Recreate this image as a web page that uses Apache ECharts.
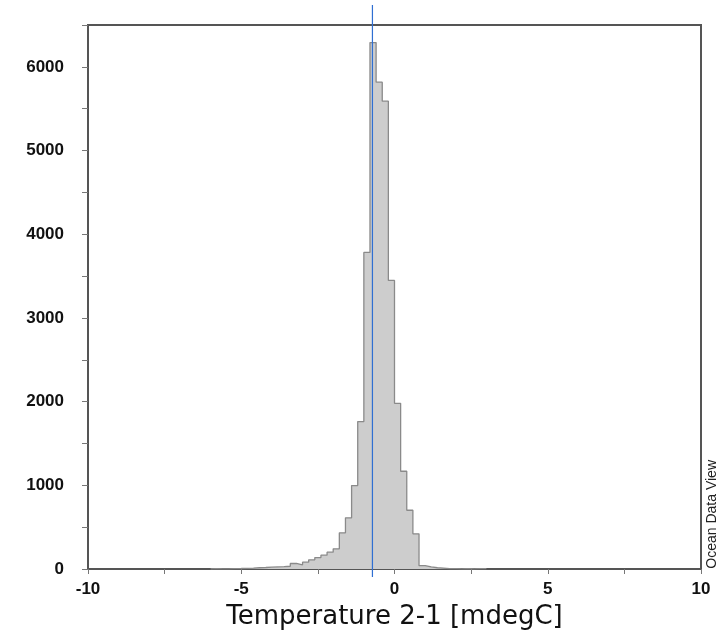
<!DOCTYPE html>
<html><head><meta charset="utf-8">
<script src="https://cdn.jsdelivr.net/npm/echarts@6/dist/echarts.min.js"></script>
<style>html,body{margin:0;padding:0;background:#fff}#c{width:724px;height:638px}</style>
</head><body><div id="c"></div>
<script>
// Histogram of Temperature 2-1 [mdegC], bins 0.2 wide starting at -6.0
const binStart = -6.0;
const binWidth = 0.2;
const counts = [
  5, 1, 1, 5, 6, 8, 10, 15, 18, 22, 25, 28, 33, 66, 50, 81, 110, 137, 165, 201,
  241, 432, 611, 997, 1761, 3783, 6290, 5817, 5590, 3448, 1980, 1168, 702, 420,
  40, 25, 15, 10, 5, 5, 1, 5, 1, 5, 5
];
const meanValue = -0.72;
const xTickValues = [-10, -5, 0, 5, 10];
const yTickValues = [0, 1000, 2000, 3000, 4000, 5000, 6000];
const xTitle = 'Temperature 2-1 [mdegC]';
const sideText = 'Ocean Data View';

// build step points: (left edge, count)
const stepData = [[binStart, 0]];
counts.forEach((c, i) => stepData.push([+(binStart + i * binWidth).toFixed(2), c]));
stepData.push([+(binStart + counts.length * binWidth).toFixed(2), 0]);

const chart = echarts.init(document.getElementById('c'));
const labFont = {fontFamily: 'Liberation Sans', fontWeight: 'bold', fontSize: 17, color: '#111'};
chart.setOption({
  animation: false,
  grid: {left: 88, right: 23, top: 25, bottom: 69, show: true, borderColor: '#555', borderWidth: 2},
  xAxis: {
    type: 'value', min: -10, max: 10, interval: 2.5,
    name: xTitle, nameLocation: 'middle', nameGap: 35,
    nameTextStyle: {fontFamily: 'DejaVu Sans', fontSize: 26, color: '#111'},
    axisLine: {show: true, onZero: false, lineStyle: {color: '#555', width: 2}},
    axisTick: {show: true, length: 5, lineStyle: {color: '#777'}},
    axisLabel: Object.assign({margin: 12, formatter: v => xTickValues.includes(v) ? String(v) : ''}, labFont),
    splitLine: {show: false}
  },
  yAxis: {
    type: 'value', min: 0, max: 6500, interval: 1000,
    axisLine: {show: true, onZero: false, lineStyle: {color: '#555', width: 2}},
    axisTick: {show: true, length: 6, lineStyle: {color: '#777'}},
    minorTick: {show: true, splitNumber: 2, length: 6, lineStyle: {color: '#777'}},
    axisLabel: Object.assign({margin: 24, showMaxLabel: false,
      formatter: v => yTickValues.includes(v) ? String(v) : ''}, labFont),
    splitLine: {show: false}
  },
  series: [
    {
      type: 'line', step: 'end', data: stepData, symbol: 'none', z: 2,
      lineStyle: {color: '#8a8a8a', width: 1.3},
      areaStyle: {color: '#cdcdcd', opacity: 1}
    },
    {
      type: 'custom', z: 5, clip: false,
      data: [[meanValue]],
      renderItem: function (params, api) {
        const bottom = api.coord([api.value(0), 0]);
        const top = api.coord([api.value(0), 6500]);
        return {type: 'line', shape: {x1: bottom[0], y1: bottom[1] + 8, x2: top[0], y2: top[1] - 20},
          style: {stroke: '#2f6fd2', lineWidth: 1.2}};
      }
    }
  ],
  graphic: [{
    type: 'text', left: 705, top: 460, rotation: Math.PI / 2,
    style: {text: sideText, fontFamily: 'Liberation Sans', fontSize: 14, fill: '#222'}
  }]
});
</script></body></html>
